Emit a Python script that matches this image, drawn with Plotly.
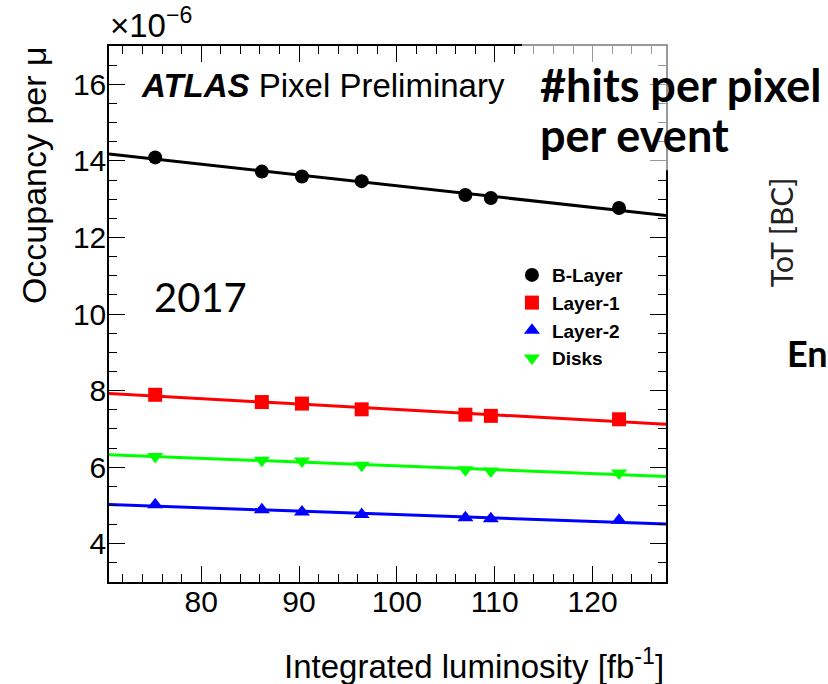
import numpy as np
import plotly.graph_objects as go

# ---- data ----
lumi = [75.3, 86.2, 90.3, 96.4, 107.0, 109.6, 122.7]          # fb^-1
blayer = [14.09, 13.72, 13.59, 13.47, 13.11, 13.03, 12.77]    # x1e-6
layer1 = [7.89, 7.70, 7.66, 7.51, 7.37, 7.34, 7.25]
layer2 = [5.02, 4.89, 4.83, 4.76, 4.68, 4.65, 4.61]
disks = [6.28, 6.18, 6.16, 6.05, 5.93, 5.90, 5.85]

series_names = ["B-Layer", "Layer-1", "Layer-2", "Disks"]
series_vals = [blayer, layer1, layer2, disks]
series_colors = ["#000000", "#ff0000", "#0000ff", "#00ff00"]
series_symbols = ["circle", "square", "triangle-up", "triangle-down"]

x_range = [70.58, 127.5]
y_range = [3.0, 17.0]

# ---- pixel helpers for decoration placement ----
L, R, T, B = 109.2, 666.0, 45.7, 582.3
def px(x):
    return (x - L) / (R - L)
def py(y):
    return (B - y) / (B - T)

fig = go.Figure()

xfit = np.array(x_range)
for name, vals, col in zip(series_names, series_vals, series_colors):
    k, b = np.polyfit(lumi, vals, 1)
    fig.add_trace(go.Scatter(x=xfit, y=k * xfit + b, mode="lines",
                             line=dict(color=col, width=3), showlegend=False,
                             hoverinfo="skip"))

for i, (name, vals, col, sym) in enumerate(zip(series_names, series_vals, series_colors, series_symbols)):
    fig.add_trace(go.Scatter(x=lumi, y=vals, mode="markers", name=name,
                             marker=dict(color=col, symbol=sym, size=14, line=dict(width=0))))

font_main = "Liberation Sans, Arial, Helvetica, sans-serif"
font_cal = "Lato, Open Sans, sans-serif"

axis_common = dict(showline=True, linecolor="black", linewidth=1.5, mirror="ticks",
                   ticks="inside", ticklen=16, tickwidth=1.2, tickcolor="black",
                   showgrid=False, zeroline=False,
                   tickfont=dict(family=font_main, size=30, color="black"))

fig.update_xaxes(range=x_range, dtick=10, tick0=0, ticklabelstandoff=-8,
                 minor=dict(dtick=2, ticks="inside", ticklen=8, tickcolor="black", tickwidth=1.2),
                 **axis_common)
fig.update_yaxes(range=y_range, dtick=2, tick0=0, ticklabelstandoff=-5,
                 minor=dict(dtick=0.5, ticks="inside", ticklen=8, tickcolor="black", tickwidth=1.2),
                 **axis_common)

annotations = [
    dict(x=px(139), y=py(85), xref="paper", yref="paper", xanchor="left", yanchor="middle",
         text="<b><i>ATLAS</i></b> Pixel Preliminary", showarrow=False,
         font=dict(family=font_main, size=33, color="black")),
    dict(x=px(108), y=py(46), xref="paper", yref="paper", xanchor="left", yanchor="bottom",
         text="×10<sup>−6</sup>", showarrow=False,
         font=dict(family=font_main, size=33, color="black")),
    dict(x=px(35), y=py(44), xref="paper", yref="paper", xanchor="center", yanchor="top",
         text="Occupancy per μ", textangle=-90, showarrow=False,
         font=dict(family=font_main, size=34, color="black")),
    dict(x=1.0, y=py(664), xref="paper", yref="paper", xanchor="right", yanchor="middle",
         text="Integrated luminosity [fb<sup>-1</sup>]", showarrow=False,
         font=dict(family=font_main, size=33, color="black")),
    dict(x=px(152), y=py(297), xref="paper", yref="paper", xanchor="left", yanchor="middle",
         text="2017", showarrow=False,
         font=dict(family=font_cal, size=40, color="black")),
    dict(x=px(538), y=py(85), xref="paper", yref="paper", xanchor="left", yanchor="middle",
         text="<b>#hits per pixel</b>", showarrow=False,
         font=dict(family=font_cal, size=45, color="black")),
    dict(x=px(538), y=py(135), xref="paper", yref="paper", xanchor="left", yanchor="middle",
         text="<b>per event</b>", showarrow=False,
         font=dict(family=font_cal, size=45, color="black")),
    dict(x=px(781), y=py(232), xref="paper", yref="paper", xanchor="center", yanchor="middle",
         text="ToT [BC]", textangle=-90, showarrow=False,
         font=dict(family=font_cal, size=30, color="#222222")),
    dict(x=px(785), y=py(353), xref="paper", yref="paper", xanchor="left", yanchor="middle",
         text="<b>En</b>", showarrow=False,
         font=dict(family=font_cal, size=36, color="black")),
]

shapes = [
    dict(type="rect", xref="paper", yref="paper", x0=px(522), x1=px(840), y0=py(170), y1=py(20),
         fillcolor="rgba(255,255,255,0.6)", line=dict(width=0), layer="above"),
]

fig.update_layout(
    width=828, height=684,
    margin=dict(l=L, r=828 - R, t=T, b=684 - B, pad=0),
    paper_bgcolor="white", plot_bgcolor="white",
    annotations=annotations, shapes=shapes,
    showlegend=True,
    legend=dict(x=px(512), y=py(256), xanchor="left", yanchor="top",
                bgcolor="rgba(0,0,0,0)", borderwidth=0,
                font=dict(family=font_main, size=19, color="black", weight="bold"),
                itemsizing="trace"),
)

fig.write_html("out.html")
